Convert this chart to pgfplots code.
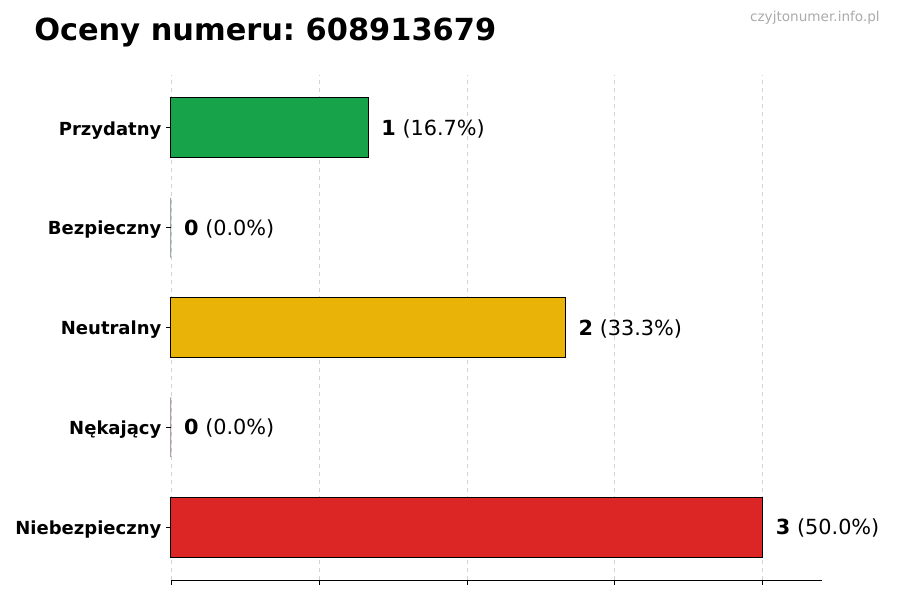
\documentclass[border=0pt]{standalone}
\usepackage{fontspec}
\setmainfont{DejaVu Sans}
\usepackage{pgfplots}
\pgfplotsset{compat=1.18}
\definecolor{cgreen}{RGB}{22,163,74}
\definecolor{cyellow}{RGB}{234,179,8}
\definecolor{cred}{RGB}{220,38,38}
\definecolor{cmark}{RGB}{170,170,170}
\begin{document}
\frenchspacing
\begin{tikzpicture}
% page 900x600 px, 1 px = 0.75pt
\path (0,0) rectangle (675pt,450pt);
\node[anchor=west,inner sep=0,font=\fontsize{22.8}{27}\selectfont\bfseries] at (25.5pt,425.8pt) {Oceny numeru: 608913679};
\node[anchor=east,inner sep=0,text=cmark,font=\fontsize{10.2}{12}\selectfont] at (660pt,436.5pt) {czyjtonumer.info.pl};
\begin{axis}[
    at={(128.25pt,15pt)}, anchor=south west,
    scale only axis,
    width=488.25pt, height=378.75pt,
    clip=false,
    xbar, bar width=0.6, bar shift=0pt,
    xmin=0, xmax=3.3,
    ymin=-0.53, ymax=4.53,
    axis x line*=bottom, axis y line*=left,
    y axis line style={draw=none},
    xtick={0,0.75,1.5,2.25,3},
    xticklabels={},
    ytick={0,1,2,3,4},
    yticklabels={Niebezpieczny,Nękający,Neutralny,Bezpieczny,Przydatny},
    yticklabel style={font=\fontsize{13.5}{16}\selectfont\bfseries, yshift=-1.8pt},
    tick align=outside,
    major tick length=3.7pt,
    tick style={black, line width=0.6pt},
    xmajorgrids,
    grid style={dashed, gray!35, line width=0.6pt},
    x axis line style={line width=0.6pt},
    point meta=explicit,
    /pgf/number format/assume math mode=true,
    nodes near coords={\textbf{\pgfmathprintnumber{\pgfkeysvalueof{/data point/x}}} (\pgfmathprintnumber[fixed,fixed zerofill,precision=1]{\pgfplotspointmeta}\%)},
    every node near coord/.append style={anchor=west, inner sep=0pt, xshift=9.5pt, yshift=-0.8pt, black, font=\fontsize{15.6}{18}\selectfont},
    every axis plot/.append style={draw=black, line width=0.75pt},
]
\addplot[fill=cred]    coordinates {(3,0) [50.0]};
\addplot[fill=cred]    coordinates {(0,1) [0.0]};
\addplot[fill=cyellow] coordinates {(2,2) [33.3]};
\addplot[fill=cgreen]  coordinates {(0,3) [0.0]};
\addplot[fill=cgreen]  coordinates {(1,4) [16.7]};
\end{axis}
\end{tikzpicture}
\end{document}
